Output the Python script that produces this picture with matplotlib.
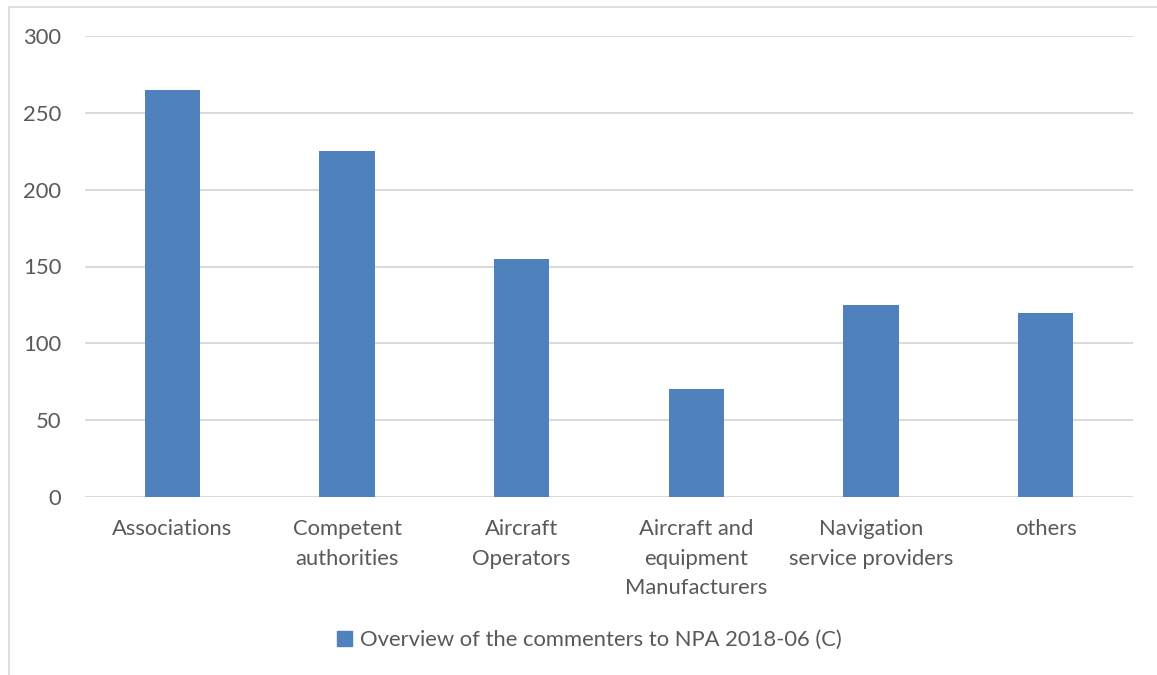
import matplotlib
matplotlib.use("Agg")
import matplotlib.pyplot as plt
from matplotlib.patches import Rectangle, Patch

categories = ["Associations", "Competent\nauthorities", "Aircraft\nOperators",
              "Aircraft and\nequipment\nManufacturers", "Navigation\nservice providers", "others"]
values = [265, 225, 155, 70, 125, 120]
yticks = [0, 50, 100, 150, 200, 250, 300]
series_name = "Overview of the commenters to NPA 2018-06 (C)"

plt.rcParams['font.family'] = ['Lato', 'DejaVu Sans']
W, H = 1157, 675
fig = plt.figure(figsize=(W/100, H/100), dpi=100)
ax = fig.add_axes([85/W, 1-497/H, (1133-85)/W, (497-36)/H])

bar_color = "#4f81bd"
text_color = "#595959"
grid_color = "#d9d9d9"
fs = 15.8

x = list(range(len(categories)))
ax.bar(x, values, width=0.315, color=bar_color, zorder=3)
ax.set_xlim(-0.5, len(categories)-0.5)
ax.set_ylim(0, 300)
ax.set_yticks(yticks)
ax.set_yticklabels([str(v) for v in yticks])
ax.set_xticks(x)
ax.set_xticklabels(categories, linespacing=1.58, va='top')
ax.yaxis.grid(True, color=grid_color, linewidth=1.4, zorder=0)
for s in ax.spines.values():
    s.set_visible(False)
ax.tick_params(axis='both', length=0, colors=text_color, labelsize=fs)
ax.tick_params(axis='y', pad=17)
ax.tick_params(axis='x', pad=16)
for lab in ax.get_yticklabels():
    lab.set_horizontalalignment('right')

# figure border (partially cropped)
fig.add_artist(Rectangle((9/W, -0.1), 1.2, (1-7/H)+0.1, transform=fig.transFigure,
                         fill=False, edgecolor="#d9d9d9", linewidth=1.2))

fig.legend(handles=[Patch(color=bar_color, label=series_name)], loc='center',
           bbox_to_anchor=(589/W, 1-640/H), frameon=False, fontsize=fs,
           handlelength=0.7, handleheight=0.7, handletextpad=0.35, labelcolor=text_color)

fig.savefig("out.png", dpi=100, facecolor="white")
